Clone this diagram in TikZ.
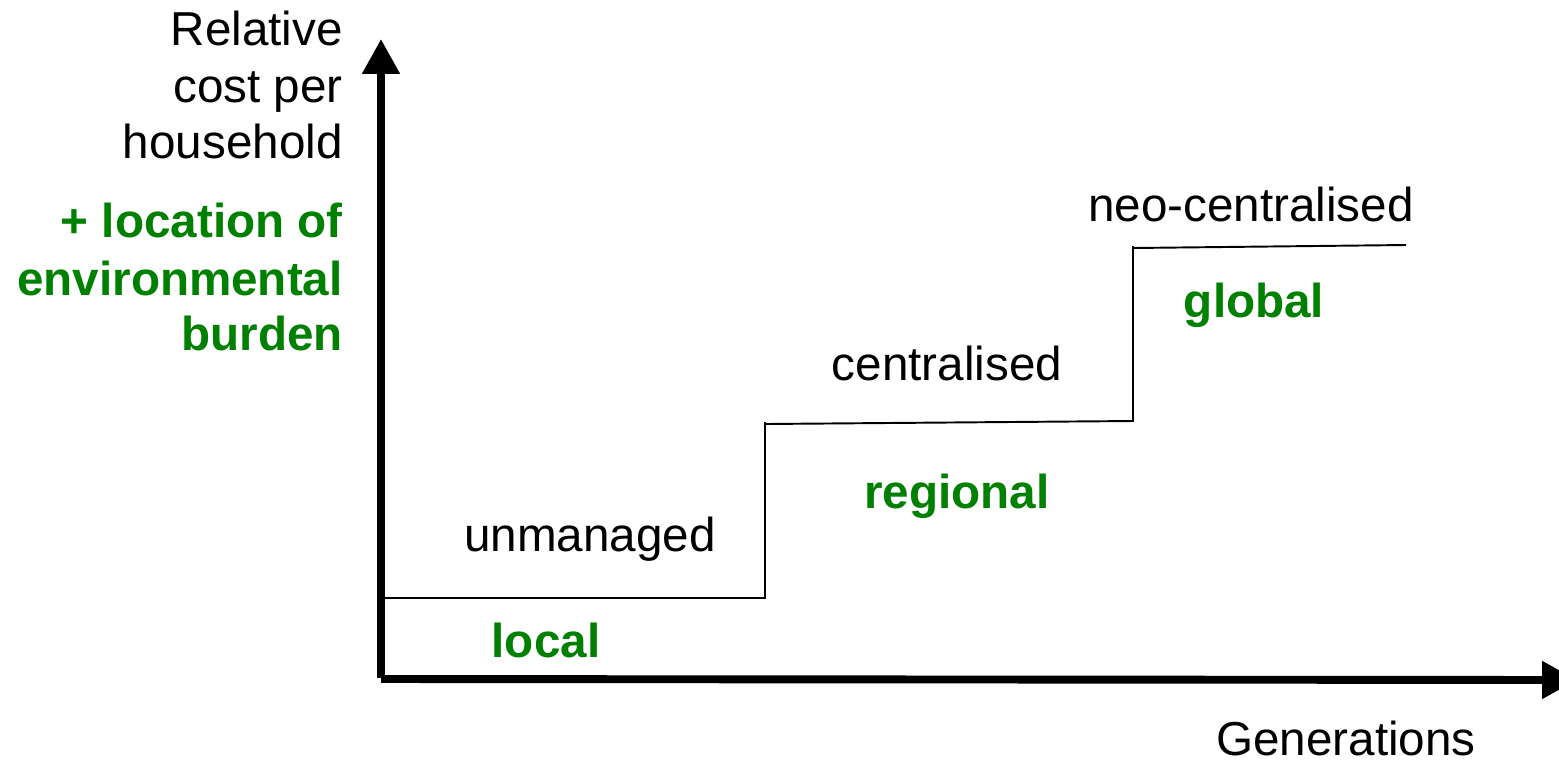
\documentclass[tikz,border=0pt]{standalone}
\usepackage{fontspec}
\setmainfont{Liberation Sans}
\usetikzlibrary{arrows.meta}
\definecolor{burden}{RGB}{0,128,0}
\begin{document}
\begin{tikzpicture}[x=0.02cm,y=-0.02cm,
  lbl/.style={inner sep=0pt,font=\fontsize{27.1pt}{32pt}\selectfont},
  grn/.style={lbl,text=burden,font=\fontsize{27.1pt}{32pt}\selectfont\bfseries},
  axis/.style={line width=4.5pt,-{Triangle[length=19.8pt,width=20.4pt]}},
  stair/.style={line width=1.1pt,line join=miter}]
\clip (0,0) rectangle (1559,772);
\fill[white] (0,0) rectangle (1559,772);

% axes
\coordinate (ybot) at (381,678);
\coordinate (ytop) at (381,39);
\coordinate (xbeg) at (381,679);
\coordinate (xend) at (1577,680);
\draw[axis] (ybot) -- (ytop);
\draw[axis] (xbeg) -- (xend);

% staircase of cost levels
\coordinate (s0) at (385,598);
\coordinate (s1) at (765,598);
\coordinate (s2) at (765,422);
\coordinate (s3) at (1133,421);
\coordinate (s4) at (1133,246);
\coordinate (s5) at (1406,245);
\draw[stair] (s0) -- (s1) -- (765,424) -- (s3) -- (1133,248) -- (s5);
\draw[stair] (s1) -- (s2);
\draw[stair] (s3) -- (s4);

% axis titles
\node[lbl,anchor=base east] (yl1) at (343,45) {Relative};
\node[lbl,anchor=base east] (yl2) at (343,102) {cost per};
\node[lbl,anchor=base east] (yl3) at (343,158) {household};
\node[grn,anchor=base east] (gl1) at (343,237) {+ location of};
\node[grn,anchor=base east] (gl2) at (343,295) {environmental};
\node[grn,anchor=base east] (gl3) at (343,350) {burden};
\node[lbl,anchor=base] (gen) at (1346,755) {Generations};

% level labels
\node[lbl,anchor=base] (unm) at (590,551) {unmanaged};
\node[grn,anchor=base] (loc) at (546,657) {local};
\node[lbl,anchor=base] (cen) at (947,380) {centralised};
\node[grn,anchor=base] (reg) at (957,508) {regional};
\node[lbl,anchor=base] (neo) at (1251,221) {neo-centralised};
\node[grn,anchor=base] (glo) at (1254,317) {global};
\end{tikzpicture}
\end{document}
